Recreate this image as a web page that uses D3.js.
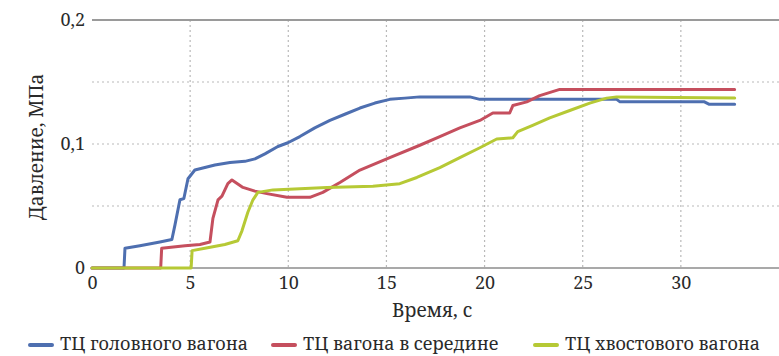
<!DOCTYPE html>
<html>
<head>
<meta charset="utf-8">
<script src="https://cdn.jsdelivr.net/npm/d3@7"></script>
<style>
  html, body { margin: 0; padding: 0; background: #fff; }
  svg { display: block; }
</style>
</head>
<body>
<svg id="chart" width="779" height="356"></svg>
<script>
// Brake cylinder pressure (MPa) over time (s) for three cars of a train
const xTicks = [0, 5, 10, 15, 20, 25, 30];
const yTicks = [0, 0.1, 0.2];
const yGrid = [0.05, 0.1, 0.15];

const seriesNames = ["ТЦ головного вагона", "ТЦ вагона в середине", "ТЦ хвостового вагона"];
const seriesColors = ["#4e6fb0", "#c54f5e", "#b6c935"];

const headCar = [
  [0, 0], [1.63, 0], [1.68, 0.016], [2.44, 0.018], [3.46, 0.021], [4.07, 0.023],
  [4.23, 0.035], [4.48, 0.055], [4.68, 0.056], [4.89, 0.072], [5.24, 0.079],
  [5.75, 0.081], [6.26, 0.083], [7.03, 0.085], [7.79, 0.086], [8.30, 0.088],
  [8.81, 0.092], [9.47, 0.098], [9.98, 0.101], [10.59, 0.106], [11.35, 0.113],
  [12.12, 0.119], [12.88, 0.124], [13.65, 0.129], [14.41, 0.133], [15.17, 0.136],
  [15.94, 0.137], [16.70, 0.138], [19.25, 0.138], [19.76, 0.136], [26.73, 0.136],
  [26.9, 0.134], [31.2, 0.134], [31.45, 0.132], [32.74, 0.132]
];

const middleCar = [
  [0, 0], [3.5, 0], [3.55, 0.016], [4.74, 0.018], [5.5, 0.019], [6.01, 0.021],
  [6.16, 0.040], [6.42, 0.055], [6.62, 0.058], [6.92, 0.068], [7.13, 0.071],
  [7.69, 0.065], [8.30, 0.062], [8.91, 0.060], [9.93, 0.057], [11.10, 0.057],
  [11.76, 0.061], [12.63, 0.069], [13.65, 0.079], [15.17, 0.089], [16.70, 0.099],
  [17.72, 0.106], [18.74, 0.113], [19.76, 0.119], [20.42, 0.125], [21.28, 0.125],
  [21.44, 0.131], [22.15, 0.134], [22.81, 0.139], [23.83, 0.144], [32.74, 0.144]
];

const tailCar = [
  [0, 0], [5.05, 0], [5.1, 0.014], [5.75, 0.016], [6.77, 0.019], [7.43, 0.022],
  [7.64, 0.030], [7.94, 0.045], [8.20, 0.055], [8.45, 0.061], [9.22, 0.063],
  [10.59, 0.064], [11.97, 0.065], [14.31, 0.066], [15.68, 0.068], [16.55, 0.073],
  [17.72, 0.081], [18.74, 0.089], [19.76, 0.097], [20.62, 0.104], [21.44, 0.105],
  [21.69, 0.110], [22.45, 0.115], [23.32, 0.121], [24.34, 0.127], [25.36, 0.133],
  [26.22, 0.137], [26.73, 0.138], [32.74, 0.137]
];

const allSeries = [headCar, middleCar, tailCar];

const svg = d3.select("#chart");
const x = d3.scaleLinear().domain([0, 35]).range([92, 779]);
const y = d3.scaleLinear().domain([0, 0.2]).range([268, 20]);
const fmt = d => d3.format(".1~f")(d).replace(".", ",");
const serif = '"Noto Serif", "Liberation Serif", serif';
const ink = "#2a2a2a";

// dotted grid
svg.append("g").selectAll("line").data(yGrid).join("line")
  .attr("x1", x(0)).attr("x2", 779)
  .attr("y1", d => y(d)).attr("y2", d => y(d))
  .attr("stroke", "#b9b9b9").attr("stroke-width", 1.2)
  .attr("stroke-dasharray", "2,3");
svg.append("g").selectAll("line").data(xTicks.filter(d => d > 0)).join("line")
  .attr("x1", d => x(d)).attr("x2", d => x(d))
  .attr("y1", y(0.2)).attr("y2", y(0))
  .attr("stroke", "#b9b9b9").attr("stroke-width", 1.2)
  .attr("stroke-dasharray", "2,3");

// frame lines at 0 and 0.2
svg.append("line").attr("x1", x(0)).attr("x2", 779)
  .attr("y1", y(0.2)).attr("y2", y(0.2))
  .attr("stroke", "#9a9a9a").attr("stroke-width", 2.2);
svg.append("line").attr("x1", x(0)).attr("x2", 779)
  .attr("y1", y(0)).attr("y2", y(0))
  .attr("stroke", "#8c8c8c").attr("stroke-width", 1.5);

// axes (labels only)
const xAxis = d3.axisBottom(x).tickValues(xTicks).tickSize(0).tickPadding(8).tickFormat(d => d);
svg.append("g").attr("transform", `translate(0,${y(0)})`).call(xAxis)
  .call(g => g.select(".domain").remove())
  .selectAll("text").style("font-family", serif).style("font-size", "18px").style("fill", ink);

const yAxis = d3.axisLeft(y).tickValues(yTicks).tickSize(0).tickPadding(7).tickFormat(fmt);
svg.append("g").attr("transform", `translate(${x(0)},0)`).call(yAxis)
  .call(g => g.select(".domain").remove())
  .selectAll("text").style("font-family", serif).style("font-size", "18px").style("fill", ink);

// pressure curves
const line = d3.line().x(d => x(d[0])).y(d => y(d[1]));
svg.append("g").selectAll("path").data(allSeries).join("path")
  .attr("d", line)
  .attr("fill", "none")
  .attr("stroke", (d, i) => seriesColors[i])
  .attr("stroke-width", 3)
  .attr("stroke-linejoin", "round")
  .attr("stroke-linecap", "round");

// axis titles
svg.append("text").attr("x", 432).attr("y", 317)
  .attr("text-anchor", "middle")
  .style("font-family", serif).style("font-size", "19px").style("fill", ink)
  .text("Время, с");
svg.append("text").attr("transform", "translate(43,147) rotate(-90)")
  .attr("text-anchor", "middle")
  .style("font-family", serif).style("font-size", "19px").style("fill", ink)
  .text("Давление, МПа");

// legend
const legendX = [30, 273, 535];
const legend = svg.append("g").selectAll("g").data(seriesNames).join("g")
  .attr("transform", (d, i) => `translate(${legendX[i]},345)`);
legend.append("line").attr("x1", 0).attr("x2", 22).attr("y1", 0).attr("y2", 0)
  .attr("stroke", (d, i) => seriesColors[i]).attr("stroke-width", 4).attr("stroke-linecap", "round");
legend.append("text").attr("x", 30).attr("y", 5)
  .style("font-family", serif).style("font-size", "18px").style("fill", ink)
  .text(d => d);
</script>
</body>
</html>
